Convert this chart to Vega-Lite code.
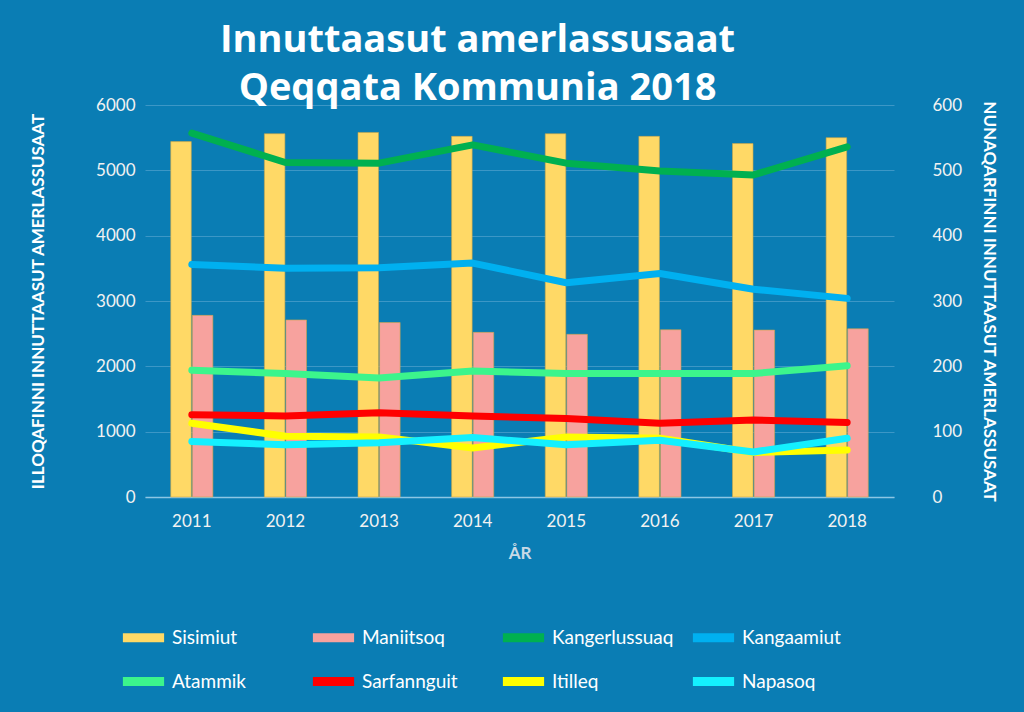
{
  "$schema": "https://vega.github.io/schema/vega-lite/v6.json",
  "width": 749,
  "height": 392,
  "autosize": {"type": "none"},
  "padding": {"left": 145, "top": 105, "right": 130, "bottom": 215},
  "background": "#0a7db4",
  "title": {
    "text": ["Innuttaasut amerlassusaat", "Qeqqata Kommunia 2018"],
    "font": "Open Sans",
    "fontSize": 38,
    "fontWeight": "bold",
    "color": "#ffffff",
    "lineHeight": 48,
    "anchor": "middle",
    "dx": -42,
    "offset": -12
  },
  "datasets": {
    "bars": [
      {"year": "2011", "series": "Sisimiut", "value": 5440},
      {"year": "2012", "series": "Sisimiut", "value": 5560},
      {"year": "2013", "series": "Sisimiut", "value": 5580},
      {"year": "2014", "series": "Sisimiut", "value": 5520},
      {"year": "2015", "series": "Sisimiut", "value": 5560},
      {"year": "2016", "series": "Sisimiut", "value": 5520},
      {"year": "2017", "series": "Sisimiut", "value": 5410},
      {"year": "2018", "series": "Sisimiut", "value": 5500},
      {"year": "2011", "series": "Maniitsoq", "value": 2780},
      {"year": "2012", "series": "Maniitsoq", "value": 2710},
      {"year": "2013", "series": "Maniitsoq", "value": 2670},
      {"year": "2014", "series": "Maniitsoq", "value": 2520},
      {"year": "2015", "series": "Maniitsoq", "value": 2490},
      {"year": "2016", "series": "Maniitsoq", "value": 2560},
      {"year": "2017", "series": "Maniitsoq", "value": 2555},
      {"year": "2018", "series": "Maniitsoq", "value": 2575}
    ],
    "lines": [
      {"year": "2011", "series": "Kangerlussuaq", "value": 557},
      {"year": "2012", "series": "Kangerlussuaq", "value": 512},
      {"year": "2013", "series": "Kangerlussuaq", "value": 511},
      {"year": "2014", "series": "Kangerlussuaq", "value": 539},
      {"year": "2015", "series": "Kangerlussuaq", "value": 511},
      {"year": "2016", "series": "Kangerlussuaq", "value": 499},
      {"year": "2017", "series": "Kangerlussuaq", "value": 493},
      {"year": "2018", "series": "Kangerlussuaq", "value": 536},
      {"year": "2011", "series": "Kangaamiut", "value": 356},
      {"year": "2012", "series": "Kangaamiut", "value": 350},
      {"year": "2013", "series": "Kangaamiut", "value": 351},
      {"year": "2014", "series": "Kangaamiut", "value": 358},
      {"year": "2015", "series": "Kangaamiut", "value": 328},
      {"year": "2016", "series": "Kangaamiut", "value": 342},
      {"year": "2017", "series": "Kangaamiut", "value": 318},
      {"year": "2018", "series": "Kangaamiut", "value": 304},
      {"year": "2011", "series": "Atammik", "value": 194},
      {"year": "2012", "series": "Atammik", "value": 189},
      {"year": "2013", "series": "Atammik", "value": 182},
      {"year": "2014", "series": "Atammik", "value": 193},
      {"year": "2015", "series": "Atammik", "value": 189},
      {"year": "2016", "series": "Atammik", "value": 189},
      {"year": "2017", "series": "Atammik", "value": 189},
      {"year": "2018", "series": "Atammik", "value": 201},
      {"year": "2011", "series": "Sarfannguit", "value": 126},
      {"year": "2012", "series": "Sarfannguit", "value": 124},
      {"year": "2013", "series": "Sarfannguit", "value": 129},
      {"year": "2014", "series": "Sarfannguit", "value": 124},
      {"year": "2015", "series": "Sarfannguit", "value": 120},
      {"year": "2016", "series": "Sarfannguit", "value": 113},
      {"year": "2017", "series": "Sarfannguit", "value": 118},
      {"year": "2018", "series": "Sarfannguit", "value": 114},
      {"year": "2011", "series": "Itilleq", "value": 113},
      {"year": "2012", "series": "Itilleq", "value": 93},
      {"year": "2013", "series": "Itilleq", "value": 92},
      {"year": "2014", "series": "Itilleq", "value": 75},
      {"year": "2015", "series": "Itilleq", "value": 92},
      {"year": "2016", "series": "Itilleq", "value": 90},
      {"year": "2017", "series": "Itilleq", "value": 68},
      {"year": "2018", "series": "Itilleq", "value": 72},
      {"year": "2011", "series": "Napasoq", "value": 85},
      {"year": "2012", "series": "Napasoq", "value": 80},
      {"year": "2013", "series": "Napasoq", "value": 83},
      {"year": "2014", "series": "Napasoq", "value": 91},
      {"year": "2015", "series": "Napasoq", "value": 80},
      {"year": "2016", "series": "Napasoq", "value": 87},
      {"year": "2017", "series": "Napasoq", "value": 69},
      {"year": "2018", "series": "Napasoq", "value": 90}
    ]
  },
  "config": {
    "view": {"stroke": null},
    "font": "Lato",
    "axis": {
      "labelFont": "Lato",
      "labelFontSize": 17,
      "labelColor": "#f2f2f2",
      "titleFont": "Lato",
      "titleFontSize": 17,
      "titleFontWeight": "bold",
      "titleColor": "#ffffff",
      "ticks": false,
      "domain": false
    },
    "legend": {
      "orient": "none",
      "legendX": -27,
      "legendY": 507,
      "direction": "horizontal",
      "columns": 4,
      "gridAlign": "all",
      "symbolType": "stroke",
      "symbolSize": 1700,
      "symbolStrokeWidth": 9,
      "labelFont": "Lato",
      "labelFontSize": 19,
      "labelColor": "#ffffff",
      "labelOffset": 3,
      "columnPadding": 0,
      "rowPadding": 0,
      "labelLimit": 200
    }
  },
  "encoding": {
    "x": {
      "field": "year",
      "type": "ordinal",
      "scale": {"paddingInner": 0.55, "paddingOuter": 0.275},
      "axis": {
        "title": "ÅR",
        "titleColor": "#c7d9e6",
        "titlePadding": 16,
        "labelAngle": 0,
        "labelPadding": 16,
        "domain": true,
        "domainColor": "#8cc6e4",
        "domainWidth": 1.5
      }
    },
    "color": {
      "field": "series",
      "type": "nominal",
      "scale": {
        "domain": ["Sisimiut", "Maniitsoq", "Kangerlussuaq", "Kangaamiut", "Atammik", "Sarfannguit", "Itilleq", "Napasoq"],
        "range": ["#ffd966", "#f7a29e", "#00b050", "#00b0f0", "#3cf58c", "#ff0000", "#ffff00", "#14f0ff"]
      },
      "legend": {"title": null, "symbolType": "stroke"}
    }
  },
  "layer": [
    {
      "data": {"name": "bars"},
      "mark": {"type": "bar", "stroke": "#c9a648", "strokeWidth": 0.6},
      "encoding": {
        "xOffset": {"field": "series", "type": "nominal", "sort": ["Sisimiut", "Maniitsoq"], "scale": {"paddingInner": 0.05}},
        "y": {
          "field": "value",
          "type": "quantitative",
          "scale": {"domain": [0, 6000]},
          "axis": {
            "title": "ILLOQAFINNI INNUTTAASUT AMERLASSUSAAT",
            "format": "d",
            "tickCount": 6,
            "labelPadding": 10,
            "titlePadding": 48,
            "grid": true,
            "gridColor": "#3c97c6",
            "gridWidth": 1
          }
        }
      }
    },
    {
      "data": {"name": "lines"},
      "mark": {"type": "line", "strokeWidth": 7, "strokeCap": "round", "strokeJoin": "round"},
      "encoding": {
        "x": {"field": "year", "type": "ordinal", "bandPosition": 0.5},
        "y": {
          "field": "value",
          "type": "quantitative",
          "scale": {"domain": [0, 600]},
          "axis": {
            "orient": "right",
            "title": "NUNAQARFINNI  INNUTTAASUT AMERLASSUSAAT",
            "format": "d",
            "tickCount": 6,
            "labelPadding": 38,
            "titlePadding": 18,
            "grid": false
          }
        }
      }
    }
  ],
  "resolve": {"scale": {"y": "independent"}}
}
